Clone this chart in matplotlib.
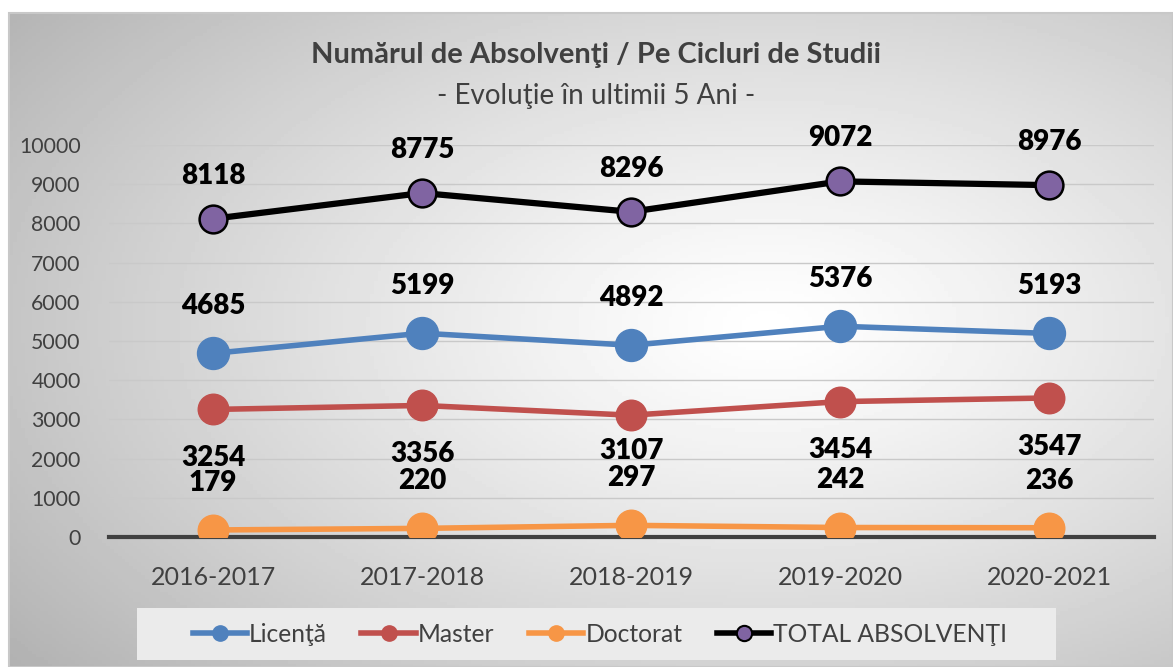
import numpy as np
import matplotlib
matplotlib.use("Agg")
import matplotlib.pyplot as plt
from matplotlib.lines import Line2D
from matplotlib.patches import Rectangle

# date
ani = ["2016-2017", "2017-2018", "2018-2019", "2019-2020", "2020-2021"]
licenta = [4685, 5199, 4892, 5376, 5193]
master = [3254, 3356, 3107, 3454, 3547]
doctorat = [179, 220, 297, 242, 236]
total = [8118, 8775, 8296, 9072, 8976]

# deplasarea etichetelor Master (puncte), una e mutata mai sus ca in original
off_master = [-35, -35, -26, -35, -35]

plt.rcParams['font.family'] = ['Lato', 'DejaVu Sans']

W, H = 1173, 667
fig = plt.figure(figsize=(W / 100, H / 100), dpi=100)
fig.patch.set_facecolor("white")

# fundal cu gradient radial
bg = fig.add_axes([9 / W, 0, 1 - 9 / W, 1 - 13 / H], zorder=-10)
yy, xx = np.mgrid[0:200, 0:300]
cx, cy = 195, 95
r = np.sqrt(((xx - cx) / 300) ** 2 + ((yy - cy) / 200) ** 2)
g = 1.0 - 0.38 * np.clip(r, 0, 1) ** 1.2
bg.imshow(g, cmap="gray", vmin=0, vmax=1, aspect="auto", extent=[0, 1, 0, 1])
bg.set_axis_off()
fig.add_artist(Rectangle((9 / W, 0), 1 - 9 / W, 1 - 13 / H, transform=fig.transFigure,
                         fill=False, edgecolor="#c8c8c8", lw=1.5, zorder=-5))

ax = fig.add_axes([108.5 / W, 1 - 537 / H, 1045 / W, 392 / H])
ax.set_facecolor("none")
x = np.arange(len(ani))
ax.set_xlim(-0.5, len(ani) - 0.5)
ax.set_ylim(0, 10000)
ax.set_yticks(range(0, 10001, 1000))
ax.grid(axis="y", color="#c9c9c9", lw=1)
ax.set_axisbelow(True)
for s in ["top", "right", "left"]:
    ax.spines[s].set_visible(False)
ax.spines["bottom"].set_color("#404040")
ax.spines["bottom"].set_linewidth(3)
ax.tick_params(axis="both", length=0, labelsize=15.3, colors="#404040")
ax.tick_params(axis="x", pad=21, labelsize=18)
ax.tick_params(axis="y", pad=20)
ax.set_xticks(x)
ax.set_xticklabels(ani)

ax.plot(x, doctorat, color="#F79646", lw=4, marker="o", ms=22, zorder=3)
ax.plot(x, master, color="#C0504D", lw=4, marker="o", ms=22, zorder=3)
ax.plot(x, licenta, color="#4F81BD", lw=4, marker="o", ms=23, zorder=3)
ax.plot(x, total, color="black", lw=4.5, marker="o", ms=20, mfc="#8064A2",
        mec="black", mew=1.8, zorder=4)

lab = dict(ha="center", va="center", fontsize=20, fontweight="heavy", color="black",
           textcoords="offset points", annotation_clip=False)
for i in range(len(ani)):
    ax.annotate(str(total[i]), (x[i], total[i]), xytext=(0, 31), **lab)
    ax.annotate(str(licenta[i]), (x[i], licenta[i]), xytext=(0, 34), **lab)
    ax.annotate(str(master[i]), (x[i], master[i]), xytext=(0, off_master[i]), **lab)
    ax.annotate(str(doctorat[i]), (x[i], doctorat[i]), xytext=(0, 34), **lab)

fig.text(596 / W, 1 - 55 / H, "Numărul de Absolvenţi / Pe Cicluri de Studii",
         ha="center", va="center", fontsize=21, fontweight="bold", color="#404040")
fig.text(596 / W, 1 - 96 / H, "- Evoluţie în ultimii 5 Ani -",
         ha="center", va="center", fontsize=20, color="#404040")

# legenda
fig.add_artist(Rectangle((137 / W, 1 - 660 / H), 919 / W, 52 / H, transform=fig.transFigure,
                         facecolor="#ebebeb", edgecolor="none", zorder=1))
handles = [
    Line2D([], [], color="#4F81BD", lw=4, marker="o", ms=11),
    Line2D([], [], color="#C0504D", lw=4, marker="o", ms=11),
    Line2D([], [], color="#F79646", lw=4, marker="o", ms=11),
    Line2D([], [], color="black", lw=4, marker="o", ms=11, mfc="#8064A2", mec="black", mew=1.5),
]
leg = fig.legend(handles, ["Licenţă", "Master", "Doctorat", "TOTAL ABSOLVENŢI"],
                 loc="center", bbox_to_anchor=(600 / W, 1 - 634 / H), ncol=4,
                 frameon=False, fontsize=17.7, handlelength=2.2, handletextpad=0.1,
                 columnspacing=1.4, labelcolor="#404040")
leg.set_zorder(2)

fig.savefig("out.png", dpi=100)
